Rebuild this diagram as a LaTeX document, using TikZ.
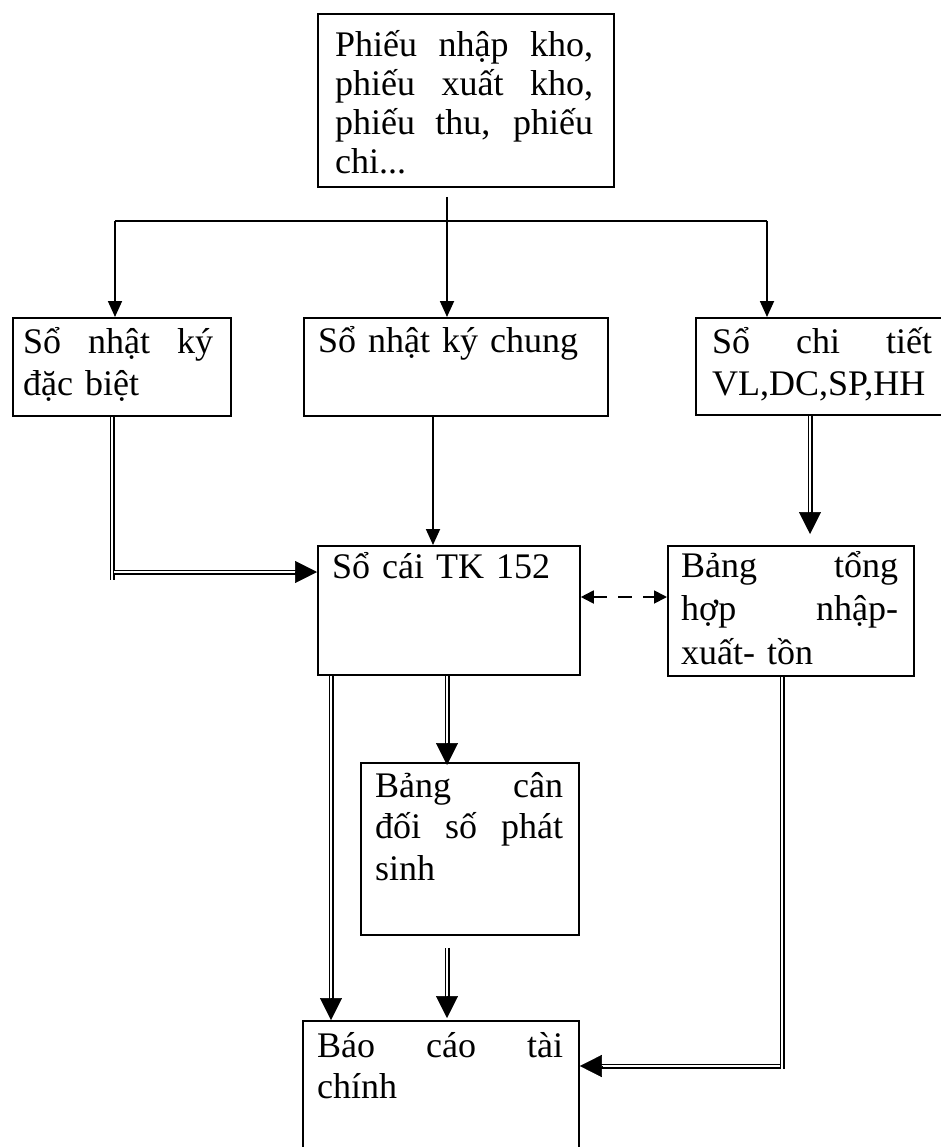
\documentclass[tikz,border=0pt]{standalone}
\usepackage{fontspec}
\setmainfont{Liberation Serif}
\usetikzlibrary{arrows.meta,calc}
\newcommand{\jline}[1]{\makebox[\linewidth][s]{\spaceskip=0pt\xspaceskip=0pt\relax #1}}
\begin{document}
\begin{tikzpicture}[x=1pt,y=-1pt,
  box/.style={draw, line width=1.8pt, rectangle, inner sep=0pt, anchor=north west},
  txt/.style={anchor=base west, inner sep=0pt, align=left, font=\fontsize{36}{42}\selectfont},
  single/.style={line width=1.8pt},
  arr/.style={single, -{Triangle[length=16pt,width=14pt]}},
  dbl/.style={double, line width=1.3pt, double distance=2.4pt},
  bigtip/.style={line width=0.5pt, -{Triangle[length=22pt,width=22pt]}},
  dash2/.style={line width=1.8pt, dash pattern=on 14pt off 11pt, {Triangle[length=13pt,width=13pt]}-{Triangle[length=13pt,width=13pt]}}
]
\useasboundingbox[fill=white] (0,0) rectangle (941,1147);

% boxes
\node[box, minimum width=296, minimum height=173] (src) at (317,13) {};
\node[box, minimum width=218, minimum height=98] (nkdb) at (12,317) {};
\node[box, minimum width=304, minimum height=98] (nkc) at (303,317) {};
\node[box, minimum width=260, minimum height=97] (sct) at (695,317) {};
\node[box, minimum width=262, minimum height=129] (socai) at (317,545) {};
\node[box, minimum width=246, minimum height=130] (bth) at (667,545) {};
\node[box, minimum width=218, minimum height=172] (bcd) at (360,762) {};
\node[box, minimum width=276, minimum height=150] (bctc) at (302,1020) {};

% texts
\node[txt, text width=258, font=\fontsize{36}{39}\selectfont] (src-t) at (335,57)
  {\jline{Phiếu nhập kho,}\\\jline{phiếu xuất kho,}\\\jline{phiếu thu, phiếu}\\chi...};
\node[txt, text width=190] (nkdb-t) at (23,353) {\jline{Sổ nhật ký}\\đặc biệt};
\node[txt, text width=280] (nkc-t) at (318,352) {Sổ nhật ký chung};
\node[txt, text width=220] (sct-t) at (712,353) {\jline{Sổ chi tiết}\\VL,DC,SP,HH};
\node[txt, text width=240] (socai-t) at (332,578) {Sổ cái TK 152};
\node[txt, text width=217, font=\fontsize{36}{43.5}\selectfont] (bth-t) at (681,577)
  {\jline{Bảng tổng}\\\jline{hợp nhập-}\\xuất- tồn};
\node[txt, text width=188, font=\fontsize{36}{41.5}\selectfont] (bcd-t) at (375,797)
  {\jline{Bảng cân}\\\jline{đối số phát}\\sinh};
\node[txt, text width=246, font=\fontsize{36}{41}\selectfont] (bctc-t) at (317,1057)
  {\jline{Báo cáo tài}\\chính};

% helper coordinates
\coordinate (sp) at (447,221);
\coordinate (hl) at (115,221);
\coordinate (hr) at (767,221);
\coordinate (x433) at (433,0);
\coordinate (xa) at (112,0);
\coordinate (a1) at (112,580);
\coordinate (a2) at (114,572);
\coordinate (xb) at (810,0);
\coordinate (yd) at (0,597);
\coordinate (xc) at (331,0);
\coordinate (xd) at (447,0);
\coordinate (xe) at (782,0);
\coordinate (e1) at (782,1069);
\coordinate (e2) at (780,1066);

% single connectors
\draw[arr] ($(src.south -| sp)+(0,9)$) -- (sp |- nkc.north);
\draw[single] (hl) -- (hr);
\draw[arr] (hl) -- (hl |- nkdb.north);
\draw[arr] (hr) -- (hr |- sct.north);
\draw[arr] (x433 |- nkc.south) -- (x433 |- socai.north);

% dashed two-way
\draw[dash2] (socai.east |- yd) -- (bth.west |- yd);

% double connectors
\draw[dbl] (xa |- nkdb.south) -- (a1);
\draw[dbl] (a2) -- ($(socai.west |- a2)+(-21,0)$);
\draw[bigtip] ($(socai.west |- a2)+(-22,0)$) -- (socai.west |- a2);

\draw[dbl] (xb |- sct.south) -- ($(xb |- bth.north)+(0,-32)$);
\draw[bigtip] ($(xb |- bth.north)+(0,-33)$) -- ($(xb |- bth.north)+(0,-11)$);

\draw[dbl] (xc |- socai.south) -- ($(xc |- bctc.north)+(0,-21)$);
\draw[bigtip] ($(xc |- bctc.north)+(0,-22)$) -- (xc |- bctc.north);

\draw[dbl] (xd |- socai.south) -- ($(xd |- bcd.north)+(0,-18)$);
\draw[bigtip] ($(xd |- bcd.north)+(0,-19)$) -- ($(xd |- bcd.north)+(0,3)$);

\draw[dbl] ($(xd |- bcd.south)+(0,12)$) -- ($(xd |- bctc.north)+(0,-23)$);
\draw[bigtip] ($(xd |- bctc.north)+(0,-24)$) -- ($(xd |- bctc.north)+(0,-2)$);

\draw[dbl] (xe |- bth.south) -- (e1);
\draw[dbl] (e2) -- ($(bctc.east |- e2)+(21,0)$);
\draw[bigtip] ($(bctc.east |- e2)+(22,0)$) -- (bctc.east |- e2);
\end{tikzpicture}
\end{document}
